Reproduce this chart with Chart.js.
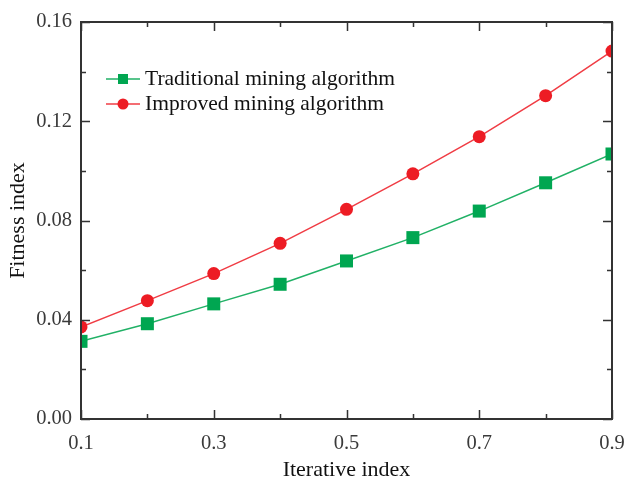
<!DOCTYPE html>
<html>
<head>
<meta charset="utf-8">
<script src="https://cdn.jsdelivr.net/npm/chart.js@4/dist/chart.umd.min.js"></script>
<style>
html,body{margin:0;padding:0;background:#fff;}
#wrap{width:626px;height:480px;position:relative;}
</style>
</head>
<body>
<div id="wrap"><canvas id="c" width="626" height="480"></canvas></div>
<script>
// ---- data ----
const iterativeIndex = [0.1, 0.2, 0.3, 0.4, 0.5, 0.6, 0.7, 0.8, 0.9];
const traditional = [0.0313, 0.0384, 0.0464, 0.0543, 0.0637, 0.0731, 0.0838, 0.0952, 0.1068];
const improved    = [0.0371, 0.0477, 0.0586, 0.0708, 0.0845, 0.0988, 0.1138, 0.1303, 0.1483];
const xMajorTicks = [0.1, 0.3, 0.5, 0.7, 0.9];
const xMinorTicks = [0.2, 0.4, 0.6, 0.8];
const yMajorTicks = [0.00, 0.04, 0.08, 0.12, 0.16];
const yMinorTicks = [0.02, 0.06, 0.10, 0.14];
const seriesLabels = ['Traditional mining algorithm', 'Improved mining algorithm'];

const SERIF = '"Liberation Serif", "Times New Roman", serif';
const GREEN = '#00a651', GREEN_LINE = '#21b166';
const RED = '#ed1c24', RED_LINE = '#f03c44';
const AXIS = '#333333';

const framePlugin = {
  id: 'frame',
  afterDatasetsDraw(chart) {
    const {ctx, chartArea: a, scales: {x, y}} = chart;
    ctx.save();
    ctx.strokeStyle = AXIS;
    ctx.lineWidth = 2;
    ctx.strokeRect(a.left, a.top, a.right - a.left, a.bottom - a.top);
    ctx.lineWidth = 1.5;
    const major = 9, minor = 5;
    ctx.beginPath();
    const xt = (v, len) => {
      const px = Math.round(x.getPixelForValue(v)) + 0.5;
      ctx.moveTo(px, a.bottom); ctx.lineTo(px, a.bottom - len);
      ctx.moveTo(px, a.top); ctx.lineTo(px, a.top + len);
    };
    const yt = (v, len) => {
      const py = Math.round(y.getPixelForValue(v)) + 0.5;
      ctx.moveTo(a.left, py); ctx.lineTo(a.left + len, py);
      ctx.moveTo(a.right, py); ctx.lineTo(a.right - len, py);
    };
    xMajorTicks.forEach(v => xt(v, major));
    xMinorTicks.forEach(v => xt(v, minor));
    yMajorTicks.forEach(v => yt(v, major));
    yMinorTicks.forEach(v => yt(v, minor));
    ctx.stroke();
    ctx.restore();
  },
  afterDraw(chart) {
    // legend
    const {ctx} = chart;
    ctx.save();
    const x0 = 106, x1 = 140, xm = 123, tx = 145;
    const rows = [79, 104];
    chart.data.datasets.forEach((ds, i) => {
      const yy = rows[i];
      ctx.strokeStyle = ds.borderColor;
      ctx.lineWidth = 1.5;
      ctx.beginPath(); ctx.moveTo(x0, yy); ctx.lineTo(x1, yy); ctx.stroke();
      ctx.fillStyle = ds.pointBackgroundColor;
      if (ds.pointStyle === 'rect') {
        ctx.fillRect(xm - 5, yy - 5, 10, 10);
      } else {
        ctx.beginPath(); ctx.arc(xm, yy, 5.5, 0, Math.PI * 2); ctx.fill();
      }
      ctx.fillStyle = '#111';
      ctx.font = '21.5px ' + SERIF;
      ctx.textBaseline = 'middle';
      ctx.textAlign = 'left';
      ctx.fillText(ds.label, tx, yy);
    });
    ctx.restore();
  }
};

new Chart(document.getElementById('c'), {
  type: 'line',
  data: {
    datasets: [
      {
        label: seriesLabels[0],
        data: iterativeIndex.map((v, i) => ({x: v, y: traditional[i]})),
        borderColor: GREEN_LINE, borderWidth: 1.5,
        pointStyle: 'rect', pointRadius: 9.2,
        pointBackgroundColor: GREEN, pointBorderColor: GREEN, pointBorderWidth: 0,
        tension: 0, clip: 0
      },
      {
        label: seriesLabels[1],
        data: iterativeIndex.map((v, i) => ({x: v, y: improved[i]})),
        borderColor: RED_LINE, borderWidth: 1.5,
        pointStyle: 'circle', pointRadius: 6.5,
        pointBackgroundColor: RED, pointBorderColor: RED, pointBorderWidth: 0,
        tension: 0, clip: 0
      }
    ]
  },
  options: {
    responsive: false,
    animation: false,
    devicePixelRatio: 1,
    layout: {padding: {left: 0, right: 14, top: 22, bottom: 0}},
    plugins: {legend: {display: false}, tooltip: {enabled: false}},
    scales: {
      x: {
        type: 'linear', min: 0.1, max: 0.9,
        afterBuildTicks: s => { s.ticks = xMajorTicks.map(v => ({value: v})); },
        afterFit: s => { s.height = 61; s.paddingLeft = 0; s.paddingRight = 0; },
        grid: {display: false, drawTicks: false},
        border: {display: false},
        ticks: {
          padding: 12, color: '#3a3a3a', font: {family: SERIF, size: 20.5},
          maxRotation: 0, autoSkip: false,
          callback: v => Number(v).toFixed(1)
        },
        title: {display: true, text: 'Iterative index', color: '#111',
          font: {family: SERIF, size: 22}, padding: {top: 0, bottom: -3}}
      },
      y: {
        type: 'linear', min: 0, max: 0.16,
        afterBuildTicks: s => { s.ticks = yMajorTicks.map(v => ({value: v})); },
        afterFit: s => { s.width = 81; s.paddingTop = 0; s.paddingBottom = 0; },
        grid: {display: false, drawTicks: false},
        border: {display: false},
        ticks: {
          padding: 9, color: '#3a3a3a', font: {family: SERIF, size: 20.5},
          autoSkip: false,
          callback: v => Number(v).toFixed(2)
        },
        title: {display: true, text: 'Fitness index', color: '#111',
          font: {family: SERIF, size: 22}, padding: {top: 5, bottom: 0}}
      }
    }
  },
  plugins: [framePlugin]
});
</script>
</body>
</html>
